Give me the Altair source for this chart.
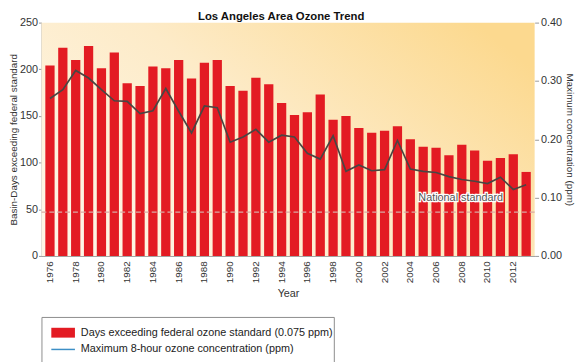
import altair as alt
import pandas as pd

years = list(range(1976, 2014))
days = [204, 223, 210, 225, 201, 218, 185, 182, 203, 201,
        210, 190, 207, 210, 182, 177, 191, 184, 164, 151,
        154, 173, 146, 150, 137, 132, 134, 139, 125, 117,
        116, 108, 119, 113, 102, 105, 109, 90]
ozone = [0.270, 0.285, 0.318, 0.305, 0.285, 0.266, 0.265, 0.244, 0.249, 0.287,
         0.248, 0.211, 0.257, 0.254, 0.195, 0.204, 0.217, 0.195, 0.207, 0.204,
         0.176, 0.166, 0.206, 0.145, 0.156, 0.146, 0.148, 0.198, 0.149, 0.145,
         0.143, 0.136, 0.131, 0.128, 0.124, 0.135, 0.114, 0.122]
standard_value = [0.075]
standard_label = ["National standard"]
standard_label_year = [2007]
standard_label_pos = [0.10]
label_years = list(range(1976, 2013, 2))
left_ticks = [0, 50, 100, 150, 200, 250]
right_ticks = [0.0, 0.1, 0.2, 0.3, 0.4]
legend_labels = ["Days exceeding federal ozone standard (0.075 ppm)",
                 "Maximum 8-hour ozone concentration (ppm)"]
legend_kinds = ["bar", "line"]

df = pd.DataFrame({"year": years, "days": days, "ozone": ozone})
std_df = pd.DataFrame({"std": standard_value})
lab_df = pd.DataFrame({"year": standard_label_year, "val": standard_label_pos,
                       "label": standard_label})
leg_df = pd.DataFrame({"label": legend_labels, "kind": legend_kinds})
bg_df = pd.DataFrame({"k": [0]})

FONT = "Liberation Sans"
RED = "#e31b23"
W, H = 501, 237

grad = alt.LinearGradient(
    gradient="linear",
    stops=[alt.GradientStop(offset=0, color="#fef6e6"),
           alt.GradientStop(offset=0.5, color="#fdebc8"),
           alt.GradientStop(offset=1, color="#fcd98f")],
    x1=0, y1=0.8, x2=1, y2=0.2,
)

background = alt.Chart(bg_df).mark_rect(fill=grad).encode(
    x=alt.value(0), x2=alt.value(W), y=alt.value(0), y2=alt.value(H)
)

xenc = alt.X("year:O", title="Year",
             scale=alt.Scale(paddingInner=0.28, paddingOuter=0.3),
             axis=alt.Axis(values=label_years, labelAngle=270, labelFontSize=10,
                           labelPadding=5, ticks=False, titlePadding=5,
                           titleFontSize=11, titleFontWeight="normal",
                           domainColor="#999999", labelColor="#333333",
                           titleColor="#333333"))

bars = alt.Chart(df).mark_bar(color=RED).encode(
    x=xenc,
    y=alt.Y("days:Q", title="Basin-Days exceeding federal standard",
            scale=alt.Scale(domain=[0, 250], nice=False),
            axis=alt.Axis(values=left_ticks, orient="left", grid=False,
                          labelFontSize=11, titleFontSize=10, tickSize=3,
                          labelPadding=1, titlePadding=1,
                          titleFontWeight="normal", domainColor="#999999",
                          tickColor="#999999", labelColor="#333333",
                          titleColor="#333333")),
)

std_rule = alt.Chart(std_df).mark_rule(color="#d9a9a3", strokeDash=[5, 3],
                                       strokeWidth=1.2).encode(
    y=alt.Y("std:Q", scale=alt.Scale(domain=[0, 0.4], nice=False), axis=None)
)

line = alt.Chart(df).mark_line(color="#4a4543", strokeWidth=1.7).encode(
    x=alt.X("year:O"),
    y=alt.Y("ozone:Q", title="Maximum concentration (ppm)",
            scale=alt.Scale(domain=[0, 0.4], nice=False),
            axis=alt.Axis(values=right_ticks, orient="right", format=".2f",
                          grid=False, labelFontSize=11, titleFontSize=10,
                          tickSize=4, labelPadding=2, titlePadding=3,
                          titleFontWeight="normal", domain=False,
                          tickColor="#999999", labelColor="#333333",
                          titleColor="#333333")),
)

halo = alt.Chart(lab_df).mark_text(font=FONT, fontSize=11, color="white",
                                   stroke="white", strokeWidth=2.5, dx=12,
                                   baseline="middle").encode(
    x=alt.X("year:O"),
    y=alt.Y("val:Q", scale=alt.Scale(domain=[0, 0.4], nice=False), axis=None),
    text="label:N",
)
txt = alt.Chart(lab_df).mark_text(font=FONT, fontSize=11, color="#555555", dx=12,
                                  baseline="middle").encode(
    x=alt.X("year:O"),
    y=alt.Y("val:Q", scale=alt.Scale(domain=[0, 0.4], nice=False), axis=None),
    text="label:N",
)

main = alt.layer(background, bars, std_rule, line, halo, txt).resolve_scale(
    y="independent"
).properties(
    width=W, height=H,
    title=alt.TitleParams("Los Angeles Area Ozone Trend", fontSize=11.5,
                          font=FONT, fontWeight="bold", color="#111111",
                          offset=-6, frame="group", dx=-7),
    view=alt.ViewBackground(stroke="transparent"),
)

yleg = alt.Y("label:N",
             scale=alt.Scale(type="point", domain=legend_labels,
                             range=[16, 33], padding=0),
             axis=None)
leg_bar = alt.Chart(leg_df).transform_filter(alt.datum.kind == "bar").mark_tick(
    color=RED, thickness=10, size=24, orient="horizontal", opacity=1
).encode(y=yleg, x=alt.value(22))
leg_line = alt.Chart(leg_df).transform_filter(alt.datum.kind == "line").mark_tick(
    color="#3d8fc6", thickness=1.5, size=24, orient="horizontal", opacity=1
).encode(y=yleg, x=alt.value(22))
leg_txt = alt.Chart(leg_df).mark_text(font=FONT, fontSize=11, align="left",
                                      baseline="middle", color="#222222").encode(
    y=yleg, x=alt.value(40), text="label:N"
)
legend = alt.layer(leg_bar, leg_line, leg_txt).properties(
    width=297, height=48,
    view=alt.ViewBackground(fill="white", stroke="#8c8c8c", strokeWidth=1),
)

chart = alt.vconcat(main, legend, spacing=17).properties(
    padding={"left": 0, "top": 0, "right": 0, "bottom": 0},
    background="white",
).configure(font=FONT)

chart.save("out.html", embed_options={"renderer": "svg", "actions": False})
